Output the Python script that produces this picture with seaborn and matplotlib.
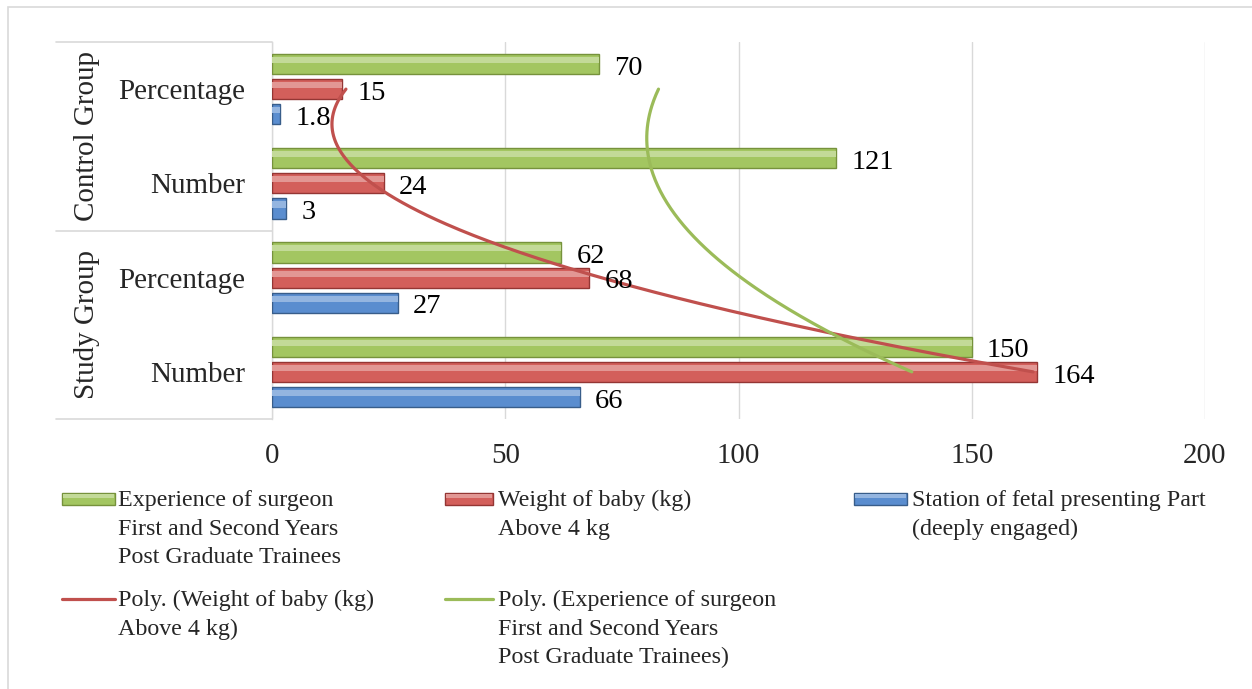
import numpy as np
import pandas as pd
import matplotlib
matplotlib.use("Agg")
import matplotlib.pyplot as plt
import matplotlib.transforms as mtransforms
from matplotlib.patches import Rectangle
from matplotlib.lines import Line2D
from matplotlib.colors import to_rgb
import seaborn as sns

# data (top row of the chart first)
groups = ["Control Group", "Control Group", "Study Group", "Study Group"]
measures = ["Percentage", "Number", "Percentage", "Number"]
experience = [70, 121, 62, 150]
weight = [15, 24, 68, 164]
station = [1.8, 3, 27, 66]
series_names = ["Experience of surgeon\nFirst and Second Years\nPost Graduate Trainees",
                "Weight of baby (kg)\nAbove 4 kg",
                "Station of fetal presenting Part\n(deeply engaged)"]
trend_names = ["Poly. (Weight of baby (kg)\nAbove 4 kg)",
               "Poly. (Experience of surgeon\nFirst and Second Years\nPost Graduate Trainees)"]
xticks = [0, 50, 100, 150, 200]

colors = ["#a3c661", "#d35f5b", "#5a8dcf"]
edges = ["#76923c", "#943634", "#385d8a"]
red_line = "#c0504d"
green_line = "#9bbb59"
grid_c = "#d9d9d9"

rows = [g + "|" + m for g, m in zip(groups, measures)]
df = pd.DataFrame({
    "row": rows * 3,
    "series": [s for s in series_names for _ in rows],
    "value": experience + weight + station,
})

sns.set_theme(style="white")
plt.rcParams["font.family"] = ["Liberation Serif", "DejaVu Serif"]

W, H = 1252, 689
fig = plt.figure(figsize=(W / 100, H / 100), dpi=100)
ax = fig.add_axes([272 / W, 1 - 419 / H, 933 / W, 377 / H])

sns.barplot(data=df, y="row", x="value", hue="series", order=rows,
            hue_order=series_names, palette=colors, orient="h", width=0.8,
            gap=0.2, saturation=1, legend=False, ax=ax, zorder=3)

def lighten(c, f):
    r = np.array(to_rgb(c))
    return tuple(r + (1 - r) * f)

# bevel-ish look + value labels
for cont, vals, c, e in zip(ax.containers, [experience, weight, station], colors, edges):
    for p in cont:
        p.set_edgecolor(e)
        p.set_linewidth(1.0)
        x0, y0, w, h = p.get_x(), p.get_y(), p.get_width(), p.get_height()
        ax.add_patch(Rectangle((x0, y0 + 0.15 * h), w, 0.3 * h, facecolor=lighten(c, 0.35),
                               lw=0, zorder=3.5))
    texts = ax.bar_label(cont, labels=[f"{v:g}" for v in vals], padding=11, fontsize=20.5,
                         color="black", zorder=5)
    for t in texts:
        t.xyann = (11, -3)

# polynomial (order 2) trendlines
pos = np.arange(len(rows))
yy = np.linspace(0, len(rows) - 1, 200)
for vals, c in [(weight, red_line), (experience, green_line)]:
    coef = np.polyfit(pos, vals, 2)
    ax.plot(np.polyval(coef, yy), yy, color=c, lw=2.3, zorder=4)

ax.set_xlim(0, 200)
ax.set_ylim(len(rows) - 0.5, -0.5)
ax.set_xticks(xticks)
ax.set_xticklabels([str(t) for t in xticks])
ax.set_yticks(pos)
ax.set_yticklabels(measures)
ax.set_xlabel("")
ax.set_ylabel("")
ax.tick_params(axis="x", length=0, pad=17, labelsize=20.9)
ax.tick_params(axis="y", length=0, pad=19.5, labelsize=20.9)
ax.grid(axis="x", color=grid_c, lw=1, zorder=0)
ax.grid(axis="y", visible=False)
for s in ["top", "right", "bottom"]:
    ax.spines[s].set_visible(False)
ax.spines["left"].set_color(grid_c)
ax.spines["left"].set_linewidth(1)

# multi-level category axis
trans = mtransforms.blended_transform_factory(ax.transAxes, ax.transData)
for yb in [-0.5, 1.5, 3.5]:
    ax.plot([-216 / 933, 0], [yb, yb], transform=trans, clip_on=False, color=grid_c, lw=1.2)
for g, yc in [("Control Group", 0.5), ("Study Group", 2.5)]:
    ax.text(-185 / 933, yc, g, transform=trans, rotation=90, ha="center", va="center",
            fontsize=20.9)

# outer chart border
fig.add_artist(Rectangle((8 / W, -0.1), 1.2, 1.1 - 7 / H, transform=fig.transFigure,
                         fill=False, edgecolor=grid_c, lw=1.2))

# legend
def fx(px):
    return px / W

def fy(py):
    return 1 - py / H

legend_items = [
    ("bar", 0, series_names[0], 62, 115, 118, 499),
    ("bar", 1, series_names[1], 445, 493, 498, 499),
    ("bar", 2, series_names[2], 854, 907, 912, 499),
    ("line", red_line, trend_names[0], 62, 115, 118, 599),
    ("line", green_line, trend_names[1], 445, 493, 498, 599),
]
for kind, c, label, hx0, hx1, tx, yc in legend_items:
    if kind == "bar":
        fig.add_artist(Rectangle((fx(hx0), fy(yc + 6)), fx(hx1 - hx0), 12 / H,
                                 transform=fig.transFigure, facecolor=colors[c],
                                 edgecolor=edges[c], lw=1))
        fig.add_artist(Rectangle((fx(hx0 + 1), fy(yc - 1)), fx(hx1 - hx0 - 2), 4 / H,
                                 transform=fig.transFigure, facecolor=lighten(colors[c], 0.35),
                                 lw=0))
    else:
        fig.add_artist(Line2D([fx(hx0), fx(hx1)], [fy(yc), fy(yc)], transform=fig.transFigure,
                              color=c, lw=2.3))
    fig.text(fx(tx), fy(yc - 9), label, ha="left", va="top", fontsize=17.3, linespacing=1.47)

fig.savefig("out.png", dpi=100)
